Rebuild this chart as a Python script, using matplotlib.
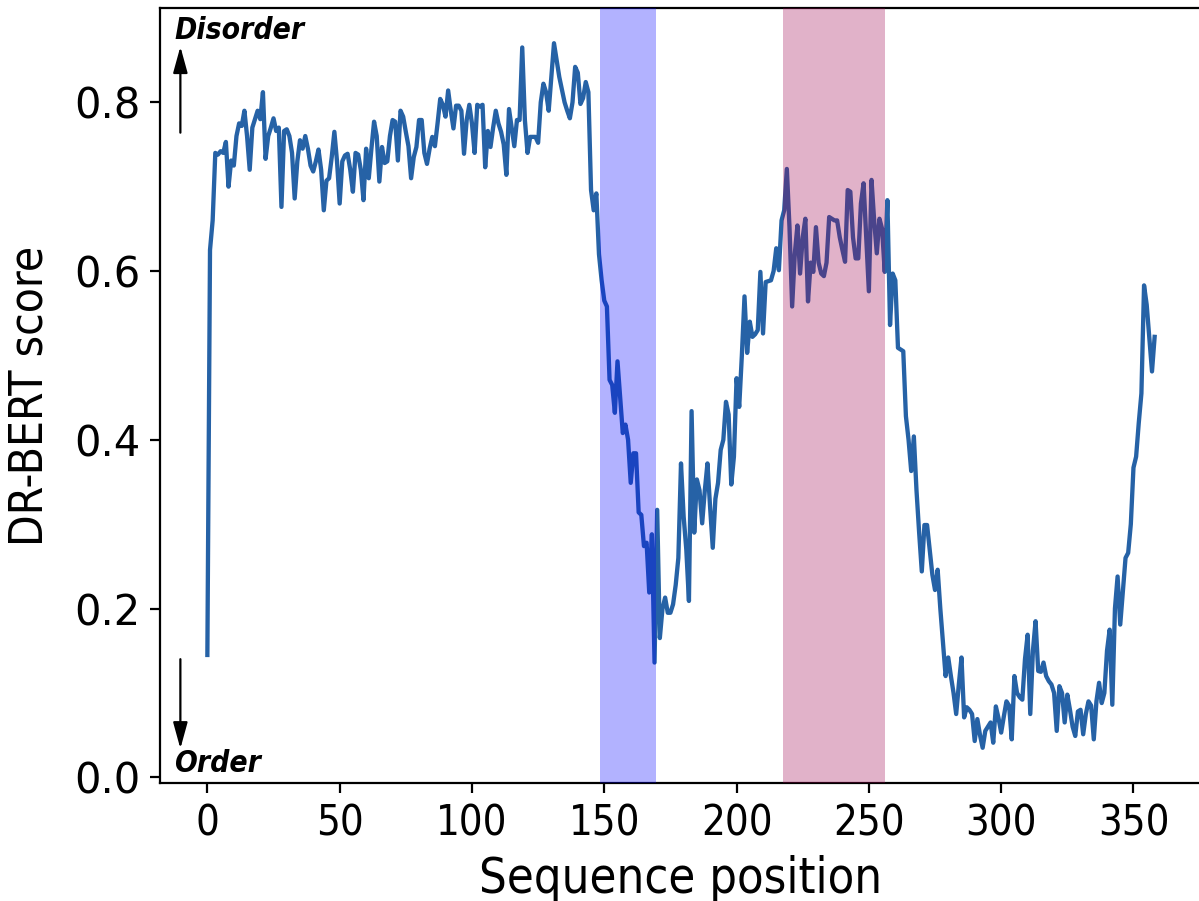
import matplotlib
matplotlib.use("Agg")
import matplotlib.pyplot as plt
from matplotlib import font_manager as fm

# DR-BERT disorder score per residue
positions = list(range(359))
scores = [
    0.145, 0.625, 0.660, 0.740, 0.738, 0.742, 0.740, 0.753, 0.700, 0.731,
    0.725, 0.760, 0.775, 0.772, 0.790, 0.760, 0.720, 0.770, 0.780, 0.790,
    0.780, 0.812, 0.733, 0.760, 0.770, 0.781, 0.766, 0.770, 0.676, 0.766,
    0.768, 0.760, 0.740, 0.686, 0.730, 0.755, 0.745, 0.760, 0.745, 0.725,
    0.718, 0.730, 0.744, 0.720, 0.672, 0.707, 0.710, 0.735, 0.765, 0.730,
    0.680, 0.730, 0.737, 0.739, 0.720, 0.694, 0.740, 0.738, 0.720, 0.684,
    0.745, 0.710, 0.745, 0.777, 0.760, 0.706, 0.747, 0.728, 0.730, 0.760,
    0.779, 0.777, 0.731, 0.790, 0.783, 0.765, 0.748, 0.710, 0.735, 0.747,
    0.779, 0.779, 0.740, 0.727, 0.745, 0.759, 0.748, 0.775, 0.804, 0.797,
    0.783, 0.814, 0.790, 0.769, 0.796, 0.796, 0.790, 0.739, 0.779, 0.797,
    0.775, 0.740, 0.797, 0.795, 0.797, 0.723, 0.766, 0.747, 0.770, 0.790,
    0.775, 0.765, 0.750, 0.714, 0.792, 0.770, 0.748, 0.779, 0.779, 0.865,
    0.779, 0.740, 0.759, 0.759, 0.759, 0.752, 0.800, 0.822, 0.812, 0.790,
    0.830, 0.870, 0.850, 0.830, 0.815, 0.800, 0.790, 0.781, 0.800, 0.842,
    0.835, 0.798, 0.805, 0.824, 0.812, 0.696, 0.672, 0.692, 0.620, 0.589,
    0.565, 0.558, 0.471, 0.465, 0.432, 0.493, 0.450, 0.408, 0.418, 0.400,
    0.349, 0.384, 0.384, 0.314, 0.311, 0.274, 0.278, 0.219, 0.288, 0.136,
    0.317, 0.165, 0.200, 0.213, 0.195, 0.195, 0.205, 0.228, 0.260, 0.372,
    0.309, 0.270, 0.209, 0.434, 0.290, 0.353, 0.340, 0.301, 0.340, 0.372,
    0.320, 0.272, 0.330, 0.349, 0.388, 0.400, 0.445, 0.430, 0.347, 0.380,
    0.473, 0.439, 0.500, 0.570, 0.503, 0.540, 0.522, 0.525, 0.530, 0.599,
    0.526, 0.587, 0.588, 0.589, 0.600, 0.627, 0.601, 0.660, 0.672, 0.721,
    0.652, 0.558, 0.620, 0.654, 0.597, 0.640, 0.662, 0.564, 0.610, 0.599,
    0.652, 0.610, 0.597, 0.594, 0.610, 0.664, 0.662, 0.660, 0.660, 0.640,
    0.625, 0.611, 0.696, 0.694, 0.640, 0.615, 0.615, 0.680, 0.704, 0.640,
    0.576, 0.708, 0.660, 0.621, 0.662, 0.650, 0.599, 0.684, 0.536, 0.597,
    0.589, 0.509, 0.507, 0.505, 0.428, 0.400, 0.363, 0.404, 0.340, 0.290,
    0.244, 0.299, 0.299, 0.270, 0.240, 0.222, 0.246, 0.200, 0.160, 0.120,
    0.142, 0.120, 0.100, 0.075, 0.110, 0.142, 0.071, 0.083, 0.080, 0.075,
    0.043, 0.069, 0.050, 0.035, 0.055, 0.060, 0.065, 0.041, 0.084, 0.070,
    0.053, 0.072, 0.090, 0.085, 0.045, 0.120, 0.100, 0.095, 0.092, 0.140,
    0.169, 0.075, 0.150, 0.185, 0.126, 0.125, 0.136, 0.120, 0.114, 0.110,
    0.100, 0.055, 0.108, 0.100, 0.065, 0.098, 0.080, 0.060, 0.049, 0.078,
    0.080, 0.051, 0.075, 0.090, 0.085, 0.045, 0.090, 0.112, 0.088, 0.100,
    0.150, 0.175, 0.086, 0.200, 0.238, 0.181, 0.220, 0.260, 0.266, 0.300,
    0.367, 0.380, 0.420, 0.455, 0.583, 0.560, 0.520, 0.481, 0.522,
]

# highlighted regions (start, end) in sequence coordinates
region_a = (148.4, 169.5)
region_b = (217.6, 256.0)

xticks = [0, 50, 100, 150, 200, 250, 300, 350]
yticks = [0.0, 0.2, 0.4, 0.6, 0.8]

# prefer a condensed sans face when it is installed
cond = fm.FontProperties(family="DejaVu Sans", stretch="condensed")
path = fm.findfont(cond, fallback_to_default=True)
plt.rcParams["font.family"] = ["DejaVu Sans"]
if "Condensed" in path:
    plt.rcParams["font.stretch"] = "condensed"

fig = plt.figure(figsize=(11.99, 9.01), dpi=100)
ax = fig.add_axes([160 / 1199, 118 / 901, 1042 / 1199, 775 / 901])

ax.plot(positions, scores, color="#2662a6", lw=3.1, zorder=2)
ax.axvspan(*region_a, color="blue", alpha=0.3, lw=0, zorder=3)
ax.axvspan(*region_b, color="#9e004e", alpha=0.3, lw=0, zorder=3)

ax.set_xticks(xticks)
ax.set_yticks(yticks)
ax.set_yticklabels([f"{v:.1f}" for v in yticks])
ax.tick_params(labelsize=30, length=7, width=1.6, pad=7)
for lbl in ax.get_yticklabels():
    lbl.set_fontstretch("normal")
for sp in ax.spines.values():
    sp.set_linewidth(1.6)

ax.set_xlabel("Sequence position", fontsize=35)
ax.set_ylabel("DR-BERT score", fontsize=33)
ax.xaxis.set_label_coords(0.5, -0.093)
ax.yaxis.set_label_coords(-0.103, 0.5)

# direction hints for the score
arrow_kw = dict(arrowstyle="-|>,head_length=0.8,head_width=0.22",
                color="black", lw=1.6, shrinkA=0, shrinkB=0,
                mutation_scale=20)
ax.annotate("", xy=(-10.2, 0.866), xytext=(-10.2, 0.764),
            arrowprops=arrow_kw, zorder=5)
ax.annotate("", xy=(-10.2, 0.034), xytext=(-10.2, 0.140),
            arrowprops=arrow_kw, zorder=5)
ax.text(-12.5, 0.875, "Disorder", fontsize=21.5, fontweight="bold",
        fontstyle="italic", ha="left", va="baseline", zorder=5)
ax.text(-12.5, 0.006, "Order", fontsize=21.5, fontweight="bold",
        fontstyle="italic", ha="left", va="baseline", zorder=5)

fig.savefig("out.png", dpi=100)
